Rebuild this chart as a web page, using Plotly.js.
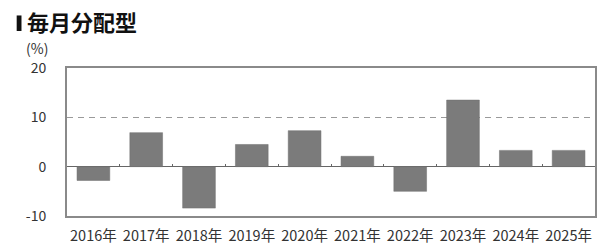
<!DOCTYPE html>
<html>
<head>
<meta charset="utf-8">
<script src="https://cdn.plot.ly/plotly-3.0.1.min.js"></script>
<style>html,body{margin:0;padding:0;background:#fff;}#chart{width:600px;height:247px;}</style>
</head>
<body>
<div id="chart"></div>
<script>
const categories = ['2016年','2017年','2018年','2019年','2020年','2021年','2022年','2023年','2024年','2025年'];
const returns = [-2.8, 6.9, -8.4, 4.5, 7.3, 2.1, -5.0, 13.5, 3.3, 3.3];
const yTicks = [-10, 0, 10, 20];
const yTickLabels = ['-10', '0', '10', '20'];
const chartTitle = '毎月分配型';
const unitLabel = '(%)';

const boundaries = categories.slice(1).map((_, i) => i + 0.5);
const font = '"Noto Sans CJK JP", "Noto Sans", sans-serif';

const trace = {
  type: 'bar',
  x: categories,
  y: returns,
  marker: {color: '#7b7b7b', line: {color: '#6e6e6e', width: 0.5}},
  hoverinfo: 'none'
};
const tickTrace = {
  type: 'scatter', x: [], y: [], xaxis: 'x2', yaxis: 'y', hoverinfo: 'none', showlegend: false
};

const layout = {
  width: 600, height: 247,
  margin: {l: 67, r: 5, t: 68, b: 31},
  paper_bgcolor: '#fff', plot_bgcolor: '#fff',
  showlegend: false,
  bargap: 0.38,
  font: {family: font, color: '#333'},
  xaxis: {
    type: 'category',
    range: [-0.5, categories.length - 0.5],
    showline: true, mirror: true, linecolor: '#8a8a8a', linewidth: 2,
    showgrid: false, zeroline: false, ticks: '',
    tickfont: {size: 14.5, color: '#333'},
    ticklabelstandoff: 6
  },
  xaxis2: {
    overlaying: 'x', anchor: 'free', position: 1/3, side: 'top',
    range: [-0.5, categories.length - 0.5],
    tickmode: 'array', tickvals: boundaries,
    ticks: 'outside', ticklen: 3, tickcolor: '#666', tickwidth: 1,
    showticklabels: false, showline: false, showgrid: false, zeroline: false
  },
  yaxis: {
    range: [-10, 20],
    tickmode: 'array', tickvals: yTicks, ticktext: yTickLabels,
    showline: true, mirror: true, linecolor: '#8a8a8a', linewidth: 2,
    showgrid: true, gridcolor: '#9a9a9a', gridwidth: 1.5, griddash: '6px,5px',
    zeroline: true, zerolinecolor: '#666', zerolinewidth: 1.5,
    ticks: '', tickfont: {size: 14, color: '#333'},
    ticklabelstandoff: 16
  },
  annotations: [
    {text: '<b>' + chartTitle + '</b>', xref: 'paper', yref: 'paper',
     x: -0.079, y: 1.315, xanchor: 'left', yanchor: 'middle', showarrow: false,
     font: {family: font, size: 22, color: '#111'}},
    {text: unitLabel, xref: 'paper', yref: 'paper',
     x: -0.057, y: 1.135, xanchor: 'center', yanchor: 'middle', showarrow: false,
     font: {family: font, size: 14, color: '#333'}}
  ],
  shapes: [
    {type: 'rect', xref: 'paper', yref: 'paper',
     x0: -0.0953, x1: -0.0862, y0: 1.25, y1: 1.355,
     fillcolor: '#111', line: {width: 0}}
  ]
};

Plotly.newPlot('chart', [trace, tickTrace], layout, {staticPlot: true, displayModeBar: false});
</script>
</body>
</html>
